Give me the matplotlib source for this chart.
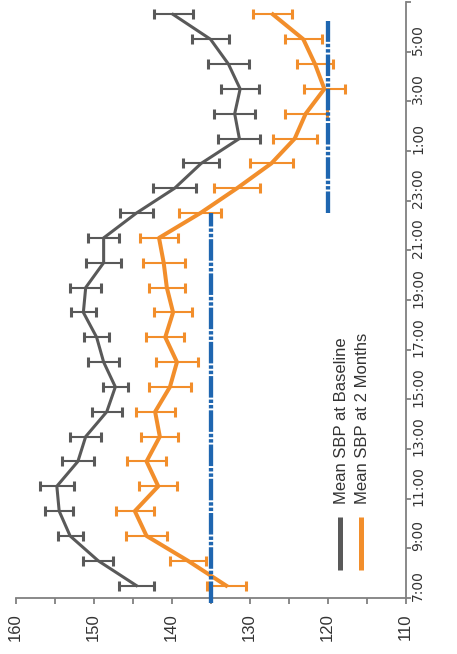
import matplotlib
matplotlib.use("Agg")
import matplotlib.pyplot as plt
import numpy as np
from matplotlib.lines import Line2D

# data, one value per hour from 7:00 to 6:00
hours = ["7:00", "8:00", "9:00", "10:00", "11:00", "12:00", "13:00", "14:00",
         "15:00", "16:00", "17:00", "18:00", "19:00", "20:00", "21:00", "22:00",
         "23:00", "0:00", "1:00", "2:00", "3:00", "4:00", "5:00", "6:00"]
baseline = [144.5, 149.4, 153.0, 154.4, 154.7, 152.0, 151.0, 148.3, 147.2, 148.7,
            149.6, 151.3, 151.0, 148.7, 148.7, 144.5, 139.6, 136.2, 131.3, 131.9,
            131.2, 132.7, 135.0, 139.8]
baseline_err = [2.2, 1.9, 1.6, 1.8, 2.2, 2.1, 2.0, 1.9, 1.6, 2.0, 1.6, 1.6,
                2.0, 2.2, 2.0, 2.1, 2.8, 2.35, 2.7, 2.6, 2.45, 2.6, 2.35, 2.5]
months2 = [133.0, 137.9, 143.2, 144.7, 141.7, 143.2, 141.5, 142.1, 140.2, 139.3,
           140.8, 139.8, 140.6, 141.0, 141.6, 136.3, 131.6, 127.2, 124.2, 122.8,
           120.4, 121.6, 123.1, 127.0]
months2_err = [2.5, 2.35, 2.6, 2.4, 2.45, 2.5, 2.35, 2.5, 2.7, 2.65, 2.45, 2.4,
               2.3, 2.7, 2.4, 2.7, 2.9, 2.8, 2.8, 2.7, 2.65, 2.3, 2.35, 2.5]
# target lines: day target 7:00-22:00, night target 22:00-6:00
day_target = 135
night_target = 120
day_hours = ("7:00", "22:00")
night_hours = ("22:00", "6:00")
sbp_ticks = [110, 120, 130, 140, 150, 160]

gray = "#595959"
orange = "#f28e2b"
blue = "#1f66b0"
txt = "#333333"

fig = plt.figure(figsize=(4.57, 6.54), dpi=100)
ax = fig.add_axes([15.5 / 457, 1 - 598 / 654, 390 / 457, 596 / 654])

pos = np.arange(len(hours))

# chart is shown turned on its side: SBP runs along x, time along y
ax.errorbar(baseline, pos, xerr=baseline_err, color=gray, lw=2.2,
            elinewidth=1.5, capsize=3.5, capthick=2.2, zorder=3)
ax.errorbar(months2, pos, xerr=months2_err, color=orange, lw=2.9,
            elinewidth=1.5, capsize=3.5, capthick=2.2, zorder=3)

dash = (0, (5, 0.45, 0.8, 0.45, 0.8, 0.45))
d0, d1 = hours.index(day_hours[0]), hours.index(day_hours[1])
n0, n1 = hours.index(night_hours[0]), hours.index(night_hours[1])
ax.plot([day_target, day_target], [d0 - 0.7, d1], color=blue, lw=3.1,
        linestyle=dash, zorder=4, clip_on=False)
ax.plot([night_target, night_target], [n0, n1 - 0.25], color=blue, lw=3.1,
        linestyle=dash, zorder=4)

ax.set_xlim(160, 110)
ax.set_ylim(-0.5, len(hours) - 0.5)

for s in ["top", "left"]:
    ax.spines[s].set_visible(False)
for s in ["bottom", "right"]:
    ax.spines[s].set_color("#808080")
    ax.spines[s].set_linewidth(1.3)

ax.set_xticks(sbp_ticks)
ax.set_xticks([115, 125, 135, 145, 155], minor=True)
ax.set_xticklabels([str(t) for t in sbp_ticks], rotation=90,
                   fontsize=12, family=["Liberation Sans", "DejaVu Sans"], color=txt)
ax.tick_params(axis="x", which="both", direction="out", length=4, width=1.3,
               color="#808080", pad=7)

ax.yaxis.tick_right()
ax.set_yticks(pos[::2])
ax.set_yticklabels(hours[::2], rotation=90, va="center",
                   fontsize=10, family=["Liberation Sans Narrow", "DejaVu Sans"], color=txt)
ax.set_yticks(np.arange(-0.5, len(hours), 2), minor=True)
ax.tick_params(axis="y", which="major", length=0, pad=4)
ax.tick_params(axis="y", which="minor", direction="out", length=3.5, width=1.3,
               color="#808080")

# legend, turned like the rest of the chart
for xl, col, label in [(340, gray, "Mean SBP at Baseline"),
                       (361, orange, "Mean SBP at 2 Months")]:
    fig.add_artist(Line2D([xl / 457, xl / 457], [1 - 570 / 654, 1 - 517 / 654],
                          color=col, lw=3.6, solid_capstyle="butt"))
    fig.text((xl + 1.5) / 457, 1 - 504 / 654, label, rotation=90, ha="center",
             va="bottom", fontsize=12, family=["Liberation Sans", "DejaVu Sans"],
             color=txt)

fig.savefig("out.png", dpi=100)
